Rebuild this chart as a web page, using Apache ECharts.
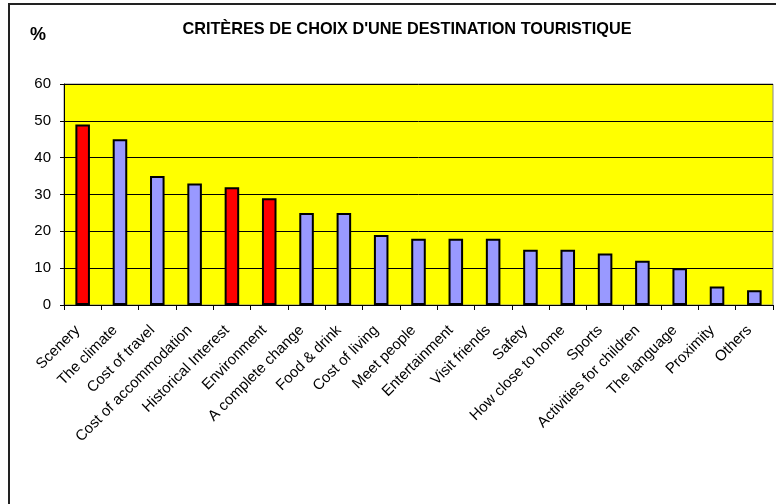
<!DOCTYPE html>
<html><head><meta charset="utf-8">
<script src="https://cdn.jsdelivr.net/npm/echarts@6/dist/echarts.min.js"></script>
<style>html,body{margin:0;padding:0;background:#fff}#c{width:776px;height:504px}</style>
</head><body><div id="c"></div>
<script>
const categories = ["Scenery","The climate","Cost of travel","Cost of accommodation","Historical Interest","Environment","A complete change","Food & drink","Cost of living","Meet people","Entertainment","Visit friends","Safety","How close to home","Sports","Activities for children","The language","Proximity","Others"];
const values = [49,45,35,33,32,29,25,25,19,18,18,18,15,15,14,12,10,5,4];
const highlighted = ["Scenery","Historical Interest","Environment"];
const yTicks = [0,10,20,30,40,50,60];
const titleText = "CRITÈRES DE CHOIX D'UNE DESTINATION TOURISTIQUE";

const chart = echarts.init(document.getElementById('c'), null, {renderer:'canvas'});
chart.setOption({
  animation:false,
  textStyle:{fontFamily:'Liberation Sans, Arial, sans-serif'},
  title:[
    {text:titleText, left:402, top:17, textAlign:'center',
     textStyle:{fontSize:16.3, fontWeight:'bold', color:'#000', fontFamily:'Liberation Sans, Arial'}},
    {text:'%', left:25, top:21,
     textStyle:{fontSize:18, fontWeight:'bold', color:'#000', fontFamily:'Liberation Sans, Arial'}}
  ],
  graphic:[{type:'rect', shape:{x:9, y:4, width:800, height:600},
    style:{fill:'none', stroke:'#222', lineWidth:2}, z:-1}],
  grid:{left:64, top:84, width:709, height:221, show:true, backgroundColor:'#FFFF00', borderColor:'#888', borderWidth:1},
  xAxis:{type:'category', data:categories,
    axisLine:{lineStyle:{color:'#000', width:1}},
    axisTick:{show:true, alignWithLabel:false, length:5, lineStyle:{color:'#000'}},
    axisLabel:{rotate:45, interval:0, fontSize:15, color:'#000', margin:18, padding:[0,7,0,0], fontFamily:'Liberation Sans, Arial'}},
  yAxis:{type:'value', min:yTicks[0], max:yTicks[yTicks.length-1], interval:10,
    axisLine:{show:true, lineStyle:{color:'#000'}},
    axisTick:{show:true, length:4, lineStyle:{color:'#000'}},
    axisLabel:{fontSize:15, color:'#000', margin:13, fontFamily:'Liberation Sans, Arial'},
    splitLine:{show:true, lineStyle:{color:'#000', width:1}}},
  series:[{type:'bar', barWidth:'39%',
    data: categories.map((c,i)=>({value:values[i], itemStyle:{color: highlighted.includes(c)?'#FF0000':'#9999FF'}})),
    itemStyle:{borderColor:'#000', borderWidth:2}}]
});
</script></body></html>
